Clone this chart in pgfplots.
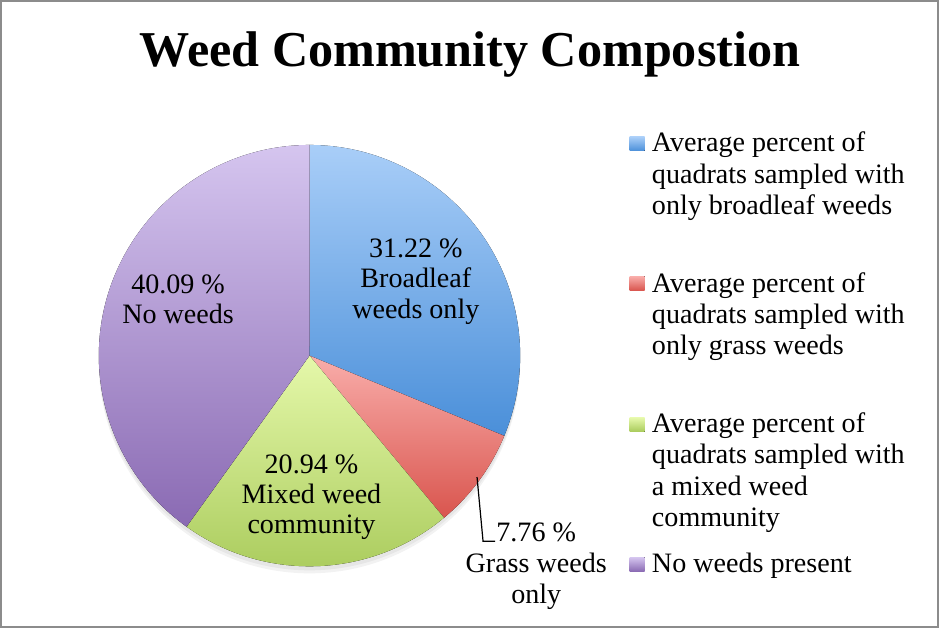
\documentclass[border=0pt]{standalone}
\usepackage{pgfplots}
\usepackage{pgfplotstable}
\pgfplotsset{compat=1.18}
\usepackage{fontspec}
\setmainfont{Liberation Serif}
\definecolor{bluetop}{HTML}{A9CEF8}
\definecolor{bluebot}{HTML}{4A8FD9}
\definecolor{redtop}{HTML}{F9ADAA}
\definecolor{redbot}{HTML}{D9554E}
\definecolor{greentop}{HTML}{E5F8AA}
\definecolor{greenbot}{HTML}{A8CA5A}
\definecolor{purpletop}{HTML}{D5C5EF}
\definecolor{purplebot}{HTML}{8A6AB3}
\definecolor{framegray}{HTML}{8C8C8C}

\pgfplotstableread{
value top bot
31.22 bluetop bluebot
7.76 redtop redbot
20.94 greentop greenbot
40.09 purpletop purplebot
}\piedata

\newcommand\lf{\fontsize{14}{16}\selectfont}

\begin{document}
\begin{tikzpicture}
\begin{axis}[x=0.5pt,y=0.5pt,xmin=0,xmax=939,ymin=0,ymax=628,
  hide axis,scale only axis,clip=false]
% frame
\draw[framegray,line width=1pt] (axis cs:2.5,1.5) rectangle (axis cs:936.5,625.5);
% title
\node[anchor=base,font=\fontsize{25}{30}\selectfont\bfseries] at (axis cs:470,560) {Weed Community Compostion};
% shadow
\fill[black,opacity=0.05] (axis cs:310,265) circle[radius=105pt];
\fill[black,opacity=0.05] (axis cs:310,268) circle[radius=105pt];
% slices
\pgfmathsetmacro{\angstart}{90}
\global\let\angstart\angstart
\pgfplotsinvokeforeach{0,...,3}{
  \pgfplotstablegetelem{#1}{value}\of\piedata \let\val\pgfplotsretval
  \pgfplotstablegetelem{#1}{top}\of\piedata \let\ctop\pgfplotsretval
  \pgfplotstablegetelem{#1}{bot}\of\piedata \let\cbot\pgfplotsretval
  \pgfmathsetmacro{\angend}{\angstart-3.6*\val}
  \edef\doslice{\noexpand\fill[top color=\ctop,bottom color=\cbot,draw=none] (axis cs:310,272) -- ++(\angstart:105pt) arc[start angle=\angstart,end angle=\angend,radius=105pt] -- cycle;}
  \doslice
  \global\let\angstart\angend
}
% slice labels
\node[anchor=base,font=\lf] at (axis cs:416,370) {31.22 \%};
\node[anchor=base,font=\lf] at (axis cs:416,340) {Broadleaf};
\node[anchor=base,font=\lf] at (axis cs:416,309) {weeds only};
\node[anchor=base,font=\lf] at (axis cs:179,334) {40.09 \%};
\node[anchor=base,font=\lf] at (axis cs:179,304) {No weeds};
\node[anchor=base,font=\lf] at (axis cs:312,155) {20.94 \%};
\node[anchor=base,font=\lf] at (axis cs:312,125) {Mixed weed};
\node[anchor=base,font=\lf] at (axis cs:312,95) {community};
\node[anchor=base,font=\lf] at (axis cs:536,87) {7.76 \%};
\node[anchor=base,font=\lf] at (axis cs:536,56) {Grass weeds};
\node[anchor=base,font=\lf] at (axis cs:536,25) {only};
\draw[black,line width=0.6pt] (axis cs:477,151) -- (axis cs:483,87) -- (axis cs:495,87);
% legend markers
\fill[top color=bluetop,bottom color=bluebot] (axis cs:629,490) rectangle (axis cs:644,476);
\fill[top color=redtop,bottom color=redbot] (axis cs:629,351) rectangle (axis cs:644,337);
\fill[top color=greentop,bottom color=greenbot] (axis cs:629,210) rectangle (axis cs:644,196);
\fill[top color=purpletop,bottom color=purplebot] (axis cs:629,71) rectangle (axis cs:644,57);
% legend text
\node[anchor=base west,font=\lf,inner xsep=0pt] at (axis cs:651,475) {Average percent of};
\node[anchor=base west,font=\lf,inner xsep=0pt] at (axis cs:651,444) {quadrats sampled with};
\node[anchor=base west,font=\lf,inner xsep=0pt] at (axis cs:651,413) {only broadleaf weeds};
\node[anchor=base west,font=\lf,inner xsep=0pt] at (axis cs:651,335) {Average percent of};
\node[anchor=base west,font=\lf,inner xsep=0pt] at (axis cs:651,304) {quadrats sampled with};
\node[anchor=base west,font=\lf,inner xsep=0pt] at (axis cs:651,273) {only grass weeds};
\node[anchor=base west,font=\lf,inner xsep=0pt] at (axis cs:651,195) {Average percent of};
\node[anchor=base west,font=\lf,inner xsep=0pt] at (axis cs:651,164) {quadrats sampled with};
\node[anchor=base west,font=\lf,inner xsep=0pt] at (axis cs:651,133) {a mixed weed};
\node[anchor=base west,font=\lf,inner xsep=0pt] at (axis cs:651,102) {community};
\node[anchor=base west,font=\lf,inner xsep=0pt] at (axis cs:651,56) {No weeds present};
\end{axis}
\end{tikzpicture}
\end{document}
